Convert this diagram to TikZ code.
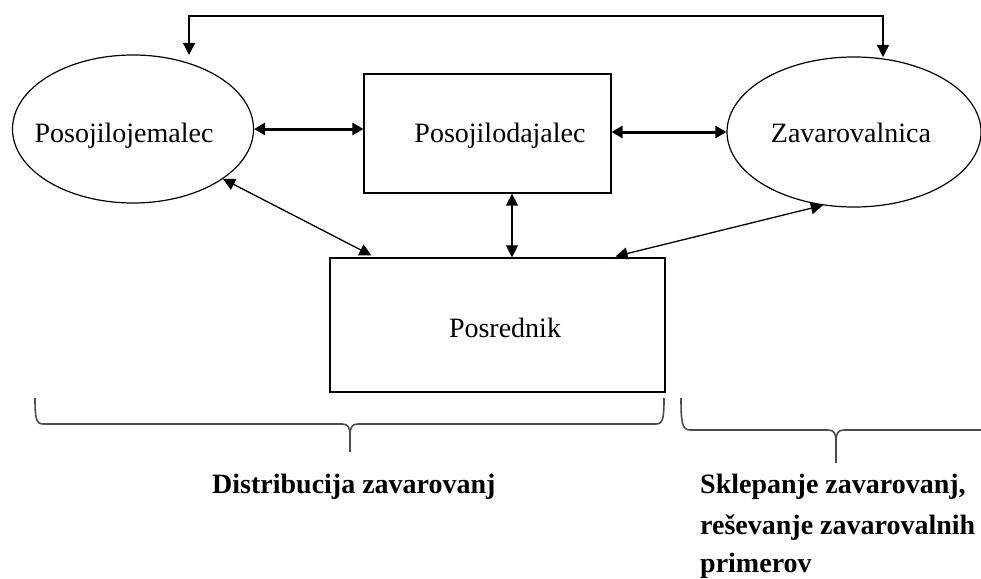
\documentclass[tikz,border=0pt]{standalone}
\usepackage{fontspec}
\setmainfont{Liberation Serif}
\usetikzlibrary{arrows.meta,shapes.geometric,calc}
\begin{document}
\begin{tikzpicture}[x=1pt,y=-1pt,
  lbl/.style={font=\fontsize{28}{34}\selectfont, inner sep=0pt, anchor=base},
  blbl/.style={font=\fontsize{28}{34}\selectfont\bfseries, inner sep=0pt, anchor=base west},
  ell/.style={draw, ellipse, line width=1.2pt, inner sep=0pt},
  boxn/.style={draw, rectangle, line width=1.2pt, inner sep=0pt},
  arr/.style={line width=1.3pt, {Triangle[length=12pt,width=12pt]}-{Triangle[length=12pt,width=12pt]}},
  thickarr/.style={line width=3pt, {Triangle[length=11pt,width=12pt]}-{Triangle[length=11pt,width=12pt]}},
  bracel/.style={line width=1.6pt, black!70}
]
\useasboundingbox (0,0) rectangle (981,578);
\clip (0,0) rectangle (981,578);

\node[ell, minimum width=241pt, minimum height=148pt] (L) at (133,129) {};
\node[ell, minimum width=254pt, minimum height=150pt] (Z) at (854,132) {};
\node[boxn, minimum width=247pt, minimum height=119pt] (B) at (487.5,133.5) {};
\node[boxn, minimum width=335pt, minimum height=134pt] (P) at (497.5,325) {};

\node[lbl] (tL) at (124,142) {Posojilojemalec};
\node[lbl] (tB) at (500,142) {Posojilodajalec};
\node[lbl] (tZ) at (851,142) {Zavarovalnica};
\node[lbl] (tP) at (505,337) {Posrednik};

% top connector
\coordinate (t1) at (189,55);
\coordinate (t2) at (883,57);
\draw[arr] (t1) -- (189,16) -- (883,16) -- (t2);

% horizontal thick arrows
\draw[thickarr] (L.east) -- (L.east -| B.west);
\draw[thickarr] (B.east |- Z.west) -- (Z.west);

% vertical arrow
\coordinate (v1) at ($(B.south)+(24.5,0)$);
\draw[arr] (v1) -- (v1 |- P.north);

% diagonals
\coordinate (d1) at ($(P.north west)+(42,-2)$);
\draw[arr] (L.-29.5) -- (d1);
\coordinate (d2) at ($(P.north east)+(-50,-1)$);
\draw[arr] (Z.-113) -- (d2);

% braces
\draw[bracel] (35,398) .. controls (35,418) and (36,424) .. (43,424) -- (342,424)
  .. controls (348,424) and (350,427) .. (350,436) -- (350,452)
  (350,436) .. controls (350,427) and (352,424) .. (358,424) -- (656,424)
  .. controls (663,424) and (664,418) .. (664,398);
\draw[bracel] (681,398) .. controls (681,422) and (682,430) .. (690,430) -- (828,430)
  .. controls (834,430) and (836,433) .. (836,442) -- (836,463)
  (836,442) .. controls (836,433) and (838,430) .. (844,430) -- (990,430);

\node[blbl] (bd) at (212,493) {Distribucija zavarovanj};
\node[blbl] (bs1) at (700,493) {Sklepanje zavarovanj,};
\node[blbl] (bs2) at (700,534) {reševanje zavarovalnih};
\node[blbl] (bs3) at (700,572) {primerov};
\end{tikzpicture}
\end{document}
